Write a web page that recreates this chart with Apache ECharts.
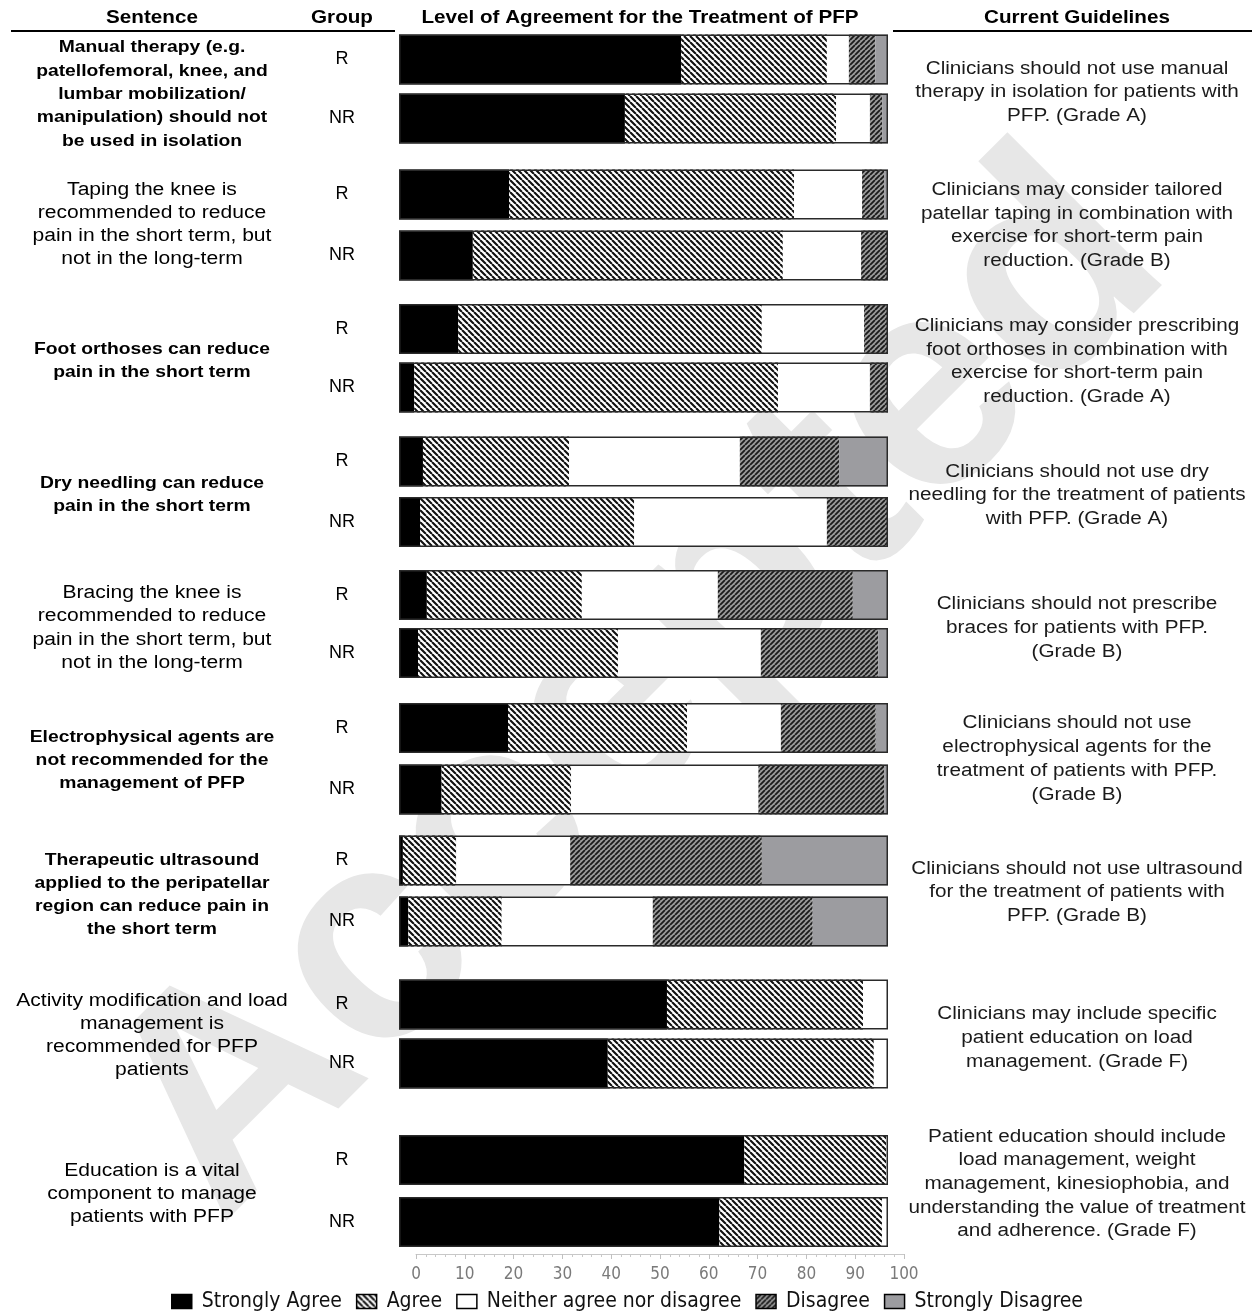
<!DOCTYPE html>
<html>
<head>
<meta charset="utf-8">
<script src="https://cdn.jsdelivr.net/npm/echarts@6/dist/echarts.min.js"></script>
<style>
html,body{margin:0;padding:0;background:#fff;}
#chart{width:1254px;height:1312px;}
</style>
</head>
<body>
<div id="chart"></div>
<script>
// ---------------- DATA ----------------
const sentences = [
  "Manual therapy (e.g.\npatellofemoral, knee, and\nlumbar mobilization/\nmanipulation) should not\nbe used in isolation",
  "Taping the knee is\nrecommended to reduce\npain in the short term, but\nnot in the long-term",
  "Foot orthoses can reduce\npain in the short term",
  "Dry needling can reduce\npain in the short term",
  "Bracing the knee is\nrecommended to reduce\npain in the short term, but\nnot in the long-term",
  "Electrophysical agents are\nnot recommended for the\nmanagement of PFP",
  "Therapeutic ultrasound\napplied to the peripatellar\nregion can reduce pain in\nthe short term",
  "Activity modification and load\nmanagement is\nrecommended for PFP\npatients",
  "Education is a vital\ncomponent to manage\npatients with PFP"
];
const sentenceBold = [true, false, true, true, false, true, true, false, false];
const groups = ["R", "NR"];
const guidelines = [
  "Clinicians should not use manual\ntherapy in isolation for patients with\nPFP. (Grade A)",
  "Clinicians may consider tailored\npatellar taping in combination with\nexercise for short-term pain\nreduction. (Grade B)",
  "Clinicians may consider prescribing\nfoot orthoses in combination with\nexercise for short-term pain\nreduction. (Grade A)",
  "Clinicians should not use dry\nneedling for the treatment of patients\nwith PFP. (Grade A)",
  "Clinicians should not prescribe\nbraces for patients with PFP.\n(Grade B)",
  "Clinicians should not use\nelectrophysical agents for the\ntreatment of patients with PFP.\n(Grade B)",
  "Clinicians should not use ultrasound\nfor the treatment of patients with\nPFP. (Grade B)",
  "Clinicians may include specific\npatient education on load\nmanagement. (Grade F)",
  "Patient education should include\nload management, weight\nmanagement, kinesiophobia, and\nunderstanding the value of treatment\nand adherence. (Grade F)"
];
const headers = ["Sentence", "Group", "Level of Agreement for the Treatment of PFP", "Current Guidelines"];
const levels = ["Strongly Agree", "Agree", "Neither agree nor disagree", "Disagree", "Strongly Disagree"];
// one value per bar, ordered sentence1 R, sentence1 NR, sentence2 R, ...
const stronglyAgree     = [57.7, 46.2, 22.5, 15.1, 12.1,  3.1,  4.9,  4.3,  5.7,  3.9, 22.3,  8.7,  0.8,  1.9, 54.8, 42.7, 70.6, 65.5];
const agree             = [29.8, 43.2, 58.3, 63.4, 62.1, 74.4, 29.9, 43.8, 31.7, 40.9, 36.6, 26.5, 10.9, 19.1, 40.1, 54.4, 29.0, 33.3];
const neither           = [ 4.5,  6.9, 13.9, 16.0, 20.9, 18.8, 34.9, 39.4, 27.8, 29.2, 19.2, 38.3, 23.3, 30.9,  5.1,  2.9,  0.4,  1.2];
const disagree          = [ 5.4,  2.5,  4.5,  5.5,  4.9,  3.7, 20.3, 12.5, 27.6, 24.0, 19.4, 25.7, 39.2, 32.7,  0.0,  0.0,  0.0,  0.0];
const stronglyDisagree  = [ 2.6,  1.2,  0.8,  0.0,  0.0,  0.0, 10.0,  0.0,  7.2,  2.0,  2.5,  0.8, 25.8, 15.4,  0.0,  0.0,  0.0,  0.0];
const axisMin = 0, axisMax = 100, axisInterval = 10;

// ---------------- LAYOUT / STYLE ----------------
const gridTop    = [30, 164, 299.75, 431.25, 566, 697.25, 830, 975, 1129];
const gridHeight = [118, 122, 117, 121, 116, 123, 122, 118, 124];
const leftTextY  = [94.5, 224.5, 361, 495, 628, 760.5, 895, 1035.5, 1194];
const rightTextY = [92.5, 225.5, 361.5, 495.5, 628, 759, 892.5, 1038, 1184];
const FONT = "'Liberation Sans', Arial, Helvetica, sans-serif";
const NARROW = "'Liberation Sans Narrow', 'Arial Narrow', 'DejaVu Sans Condensed', sans-serif";

function makePattern(bg, fg, dir, size, lw) {
  const c = document.createElement('canvas');
  c.width = size; c.height = size;
  const ctx = c.getContext('2d');
  ctx.fillStyle = bg; ctx.fillRect(0, 0, size, size);
  ctx.strokeStyle = fg; ctx.lineWidth = lw;
  ctx.beginPath();
  for (const o of [-size, 0, size]) {
    if (dir === '\\') { ctx.moveTo(o, 0); ctx.lineTo(o + size, size); }
    else { ctx.moveTo(o, size); ctx.lineTo(o + size, 0); }
  }
  ctx.stroke();
  return { image: c, repeat: 'repeat' };
}
const levelColors = [
  '#000000',
  makePattern('#ffffff', '#111111', '\\', 6, 2.1),
  '#ffffff',
  makePattern('#9a9a9a', '#1a1a1a', '/', 5, 1.8),
  '#9c9ca0'
];
const levelData = [stronglyAgree, agree, neither, disagree, stronglyDisagree];

const grids = [], xAxes = [], yAxes = [], series = [];
for (let g = 0; g < sentences.length; g++) {
  grids.push({ left: 399, width: 489, top: gridTop[g], height: gridHeight[g] });
  xAxes.push({ type: 'value', gridIndex: g, min: axisMin, max: axisMax, show: false });
  yAxes.push({
    type: 'category', gridIndex: g, data: groups, inverse: true,
    axisLine: { show: false }, axisTick: { show: false }, splitLine: { show: false },
    axisLabel: { show: true, align: 'center', margin: 57, color: '#000', fontSize: 18, fontFamily: FONT }
  });
  levels.forEach((lv, k) => {
    series.push({
      name: lv, type: 'bar', stack: 's' + g, xAxisIndex: g, yAxisIndex: g,
      barWidth: 50, barGap: '-100%', silent: true, z: 2,
      itemStyle: { color: levelColors[k], borderWidth: 0 },
      data: levelData[k].slice(g * 2, g * 2 + 2)
    });
  });
  series.push({
    name: 'frame', type: 'bar', xAxisIndex: g, yAxisIndex: g,
    barWidth: 50, barGap: '-100%', silent: true, z: 3,
    itemStyle: { color: 'rgba(0,0,0,0)', borderColor: '#2a2a2a', borderWidth: 1.5 },
    data: groups.map(() => axisMax)
  });
}
// visible bottom scale
grids.push({ left: 416, width: 488, top: 1253, height: 1 });
xAxes.push({
  type: 'value', gridIndex: 9, min: axisMin, max: axisMax, interval: axisInterval, position: 'bottom',
  axisLine: { show: true, lineStyle: { color: '#c8c8c8', width: 1 } },
  axisTick: { show: true, length: 5, inside: false, lineStyle: { color: '#c0c0c0' } },
  minorTick: { show: true, splitNumber: 5, length: 3, lineStyle: { color: '#c8c8c8' } },
  splitLine: { show: false },
  axisLabel: { margin: 12, color: '#7a7a7a', fontSize: 17, fontFamily: NARROW }
});
yAxes.push({ type: 'value', gridIndex: 9, show: false });

// graphic texts
const graphics = [];
graphics.push({
  type: 'text', x: 640, y: 690, rotation: Math.PI / 4, z: -10, silent: true,
  style: { text: 'Accepted', font: 'bold 300px ' + FONT, fill: '#e7e7e7', align: 'center', verticalAlign: 'middle' }
});
const headerX = [152, 342, 640, 1077];
headers.forEach((h, i) => {
  graphics.push({
    type: 'text', x: headerX[i], y: 18, scaleX: 1.18, z: 10,
    style: { text: h, font: 'bold 17.5px ' + FONT, fill: '#000', align: 'center', verticalAlign: 'middle' }
  });
});
graphics.push({ type: 'line', z: 10, shape: { x1: 11, y1: 31, x2: 395, y2: 31 }, style: { stroke: '#000', lineWidth: 2 } });
graphics.push({ type: 'line', z: 10, shape: { x1: 893, y1: 31, x2: 1252, y2: 31 }, style: { stroke: '#000', lineWidth: 2 } });
sentences.forEach((s, i) => {
  graphics.push({
    type: 'text', x: 152, y: leftTextY[i], scaleX: 1.17, z: 10,
    style: {
      text: s, font: (sentenceBold[i] ? 'bold 16.5px ' : '18px ') + FONT, fill: '#000',
      align: 'center', verticalAlign: 'middle', lineHeight: 23.3
    }
  });
});
guidelines.forEach((s, i) => {
  graphics.push({
    type: 'text', x: 1077, y: rightTextY[i], scaleX: 1.15, z: 10,
    style: { text: s, font: '18px ' + FONT, fill: '#1a1a1a', align: 'center', verticalAlign: 'middle', lineHeight: 23.7 }
  });
});

const chart = echarts.init(document.getElementById('chart'), null, { renderer: 'canvas' });
chart.setOption({
  animation: false,
  backgroundColor: '#ffffff',
  grid: grids, xAxis: xAxes, yAxis: yAxes, series: series,
  legend: {
    data: levels, left: 'center', top: 1286, itemWidth: 20, itemHeight: 14, itemGap: 14,
    icon: 'rect', selectedMode: false,
    itemStyle: { borderColor: '#000', borderWidth: 1.5 },
    textStyle: { fontFamily: NARROW, fontSize: 21, color: '#111', padding: [0, 0, 0, 5] }
  },
  graphic: graphics
});
</script>
</body>
</html>
